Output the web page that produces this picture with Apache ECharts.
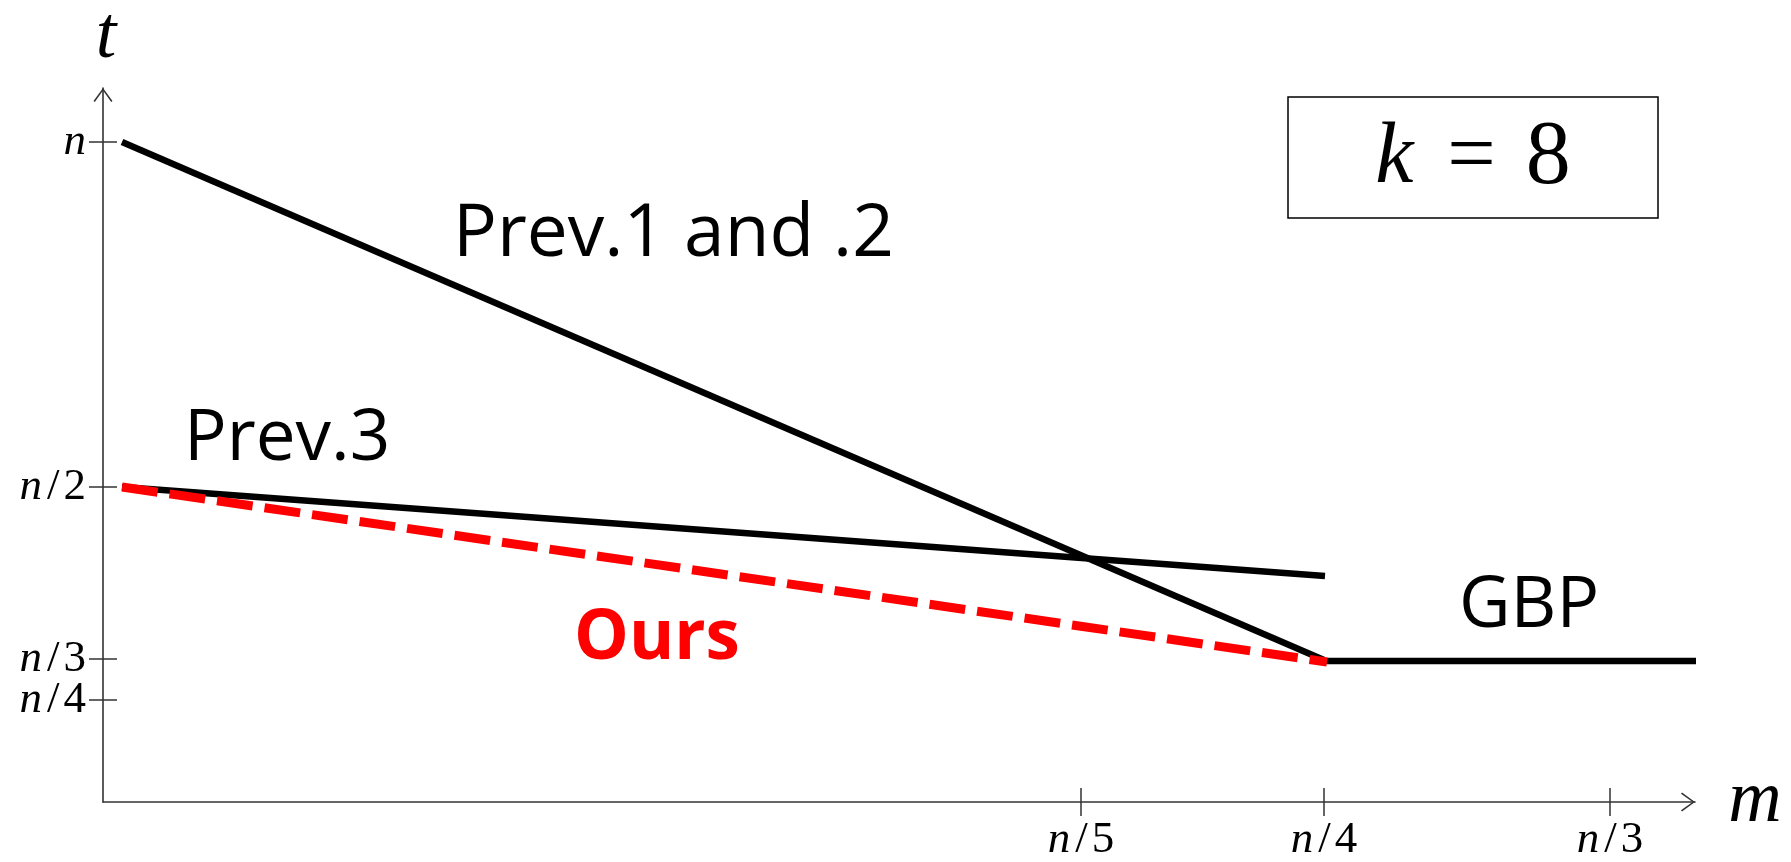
<!DOCTYPE html>
<html>
<head>
<meta charset="utf-8">
<title>k = 8</title>
<script src="https://cdn.jsdelivr.net/npm/echarts@6/dist/echarts.min.js"></script>
<style>
html, body { margin: 0; padding: 0; background: #fff; }
#chart { width: 1791px; height: 862px; }
</style>
</head>
<body>
<div id="chart"></div>
<script>
// the figure is a sketch, not to scale: both axes use schematic units
var xMax = 1592, yMax = 714;
var xTickPos = [978, 1221, 1507];
var xTickLabels = ['n/5', 'n/4', 'n/3'];
var yTickPos = [660, 315, 143, 102];
var yTickLabels = ['n', 'n/2', 'n/3', 'n/4'];

// curves
var prev12 = [[19, 660], [1221, 142]];
var prev3 = [[19, 315], [1222, 226]];
var gbp = [[1221, 141], [1593, 141]];
var ours = [[19, 315], [1224, 140]];

var myChart = echarts.init(document.getElementById('chart'));

// open chevron for the axis ends (pointing up, rotated by echarts)
var arrow = 'path://M0,13 L9.5,0 L19,13 L17.7,14 L9.5,2.4 L1.3,14 Z';
var axisColor = '#333';
var mathFont = 'Liberation Serif';

function mathLabel(pos, labels) {
    return function (v) {
        var s = labels[pos.indexOf(v)];
        if (!s) return '';
        var p = s.split('/');
        if (p.length > 1) return '{i|' + p[0] + '}{s|/}{r|' + p[1] + '}';
        return '{i|' + s + '}';
    };
}
var labelRich = {
    i: { fontFamily: mathFont, fontStyle: 'italic', fontSize: 45, lineHeight: 30, color: '#000' },
    s: { fontFamily: mathFont, fontSize: 45, lineHeight: 30, color: '#000', padding: [0, 4, 0, 5] },
    r: { fontFamily: mathFont, fontSize: 45, lineHeight: 30, color: '#000' }
};

function tickAxis(max, pos, inside, withLine) {
    return {
        type: 'value', min: 0, max: max,
        splitLine: { show: false },
        axisLine: withLine ? {
            show: true, onZero: false,
            symbol: ['none', arrow], symbolSize: [19, 14], symbolOffset: [0, -7],
            lineStyle: { color: axisColor, width: 1.6 }
        } : { show: false, onZero: false },
        axisTick: {
            show: true, inside: inside, length: 14, customValues: pos,
            lineStyle: { color: axisColor, width: 1.5 }
        },
        axisLabel: { show: false }
    };
}

function labelsOn(axis, pos, labels, values, margin) {
    axis.axisLabel = { show: true, customValues: values, margin: margin, hideOverlap: false,
        showMinLabel: true, showMaxLabel: true, lineHeight: 30,
        formatter: mathLabel(pos, labels), rich: labelRich };
}

var xMain = tickAxis(xMax, xTickPos, false, true);
xMain.position = 'bottom';
labelsOn(xMain, xTickPos, xTickLabels, xTickPos, 23);
var xIn = tickAxis(xMax, xTickPos, true, false);
xIn.position = 'bottom';

// n/3 and n/4 sit very close: share the y labels over the two left axes
// so echarts does not drop one of them as overlapping
var yEven = yTickPos.filter(function (v, i) { return i % 2 === 0; });
var yOdd = yTickPos.filter(function (v, i) { return i % 2 === 1; });
var yMain = tickAxis(yMax, yTickPos, false, true);
yMain.position = 'left';
labelsOn(yMain, yTickPos, yTickLabels, yEven, 17);
var yIn = tickAxis(yMax, yTickPos, true, false);
yIn.position = 'left';
labelsOn(yIn, yTickPos, yTickLabels, yOdd, 17);

function line(data, color, width, dash) {
    return {
        type: 'line', data: data, symbol: 'none', clip: false, silent: true,
        xAxisIndex: 0, yAxisIndex: 0,
        lineStyle: { color: color, width: width, type: dash || 'solid', cap: 'butt' }
    };
}

var sans = 'Open Sans';
var option = {
    animation: false,
    grid: { left: 103, right: 96, top: 88, bottom: 60, outerBoundsMode: 'none' },
    xAxis: [xMain, xIn],
    yAxis: [yMain, yIn],
    series: [
        line(prev12, '#000', 6.5),
        line(prev3, '#000', 6.5),
        line(gbp, '#000', 6.5),
        line(ours, '#ff0000', 9, [36, 12])
    ],
    graphic: [
        { type: 'rect', shape: { x: 1288, y: 97, width: 370, height: 121 },
          style: { fill: '#fff', stroke: '#000', lineWidth: 1.5 } },
        { type: 'text', x: 1473, y: 159,
          style: { text: '{k|k}{e|=}{d|8}', textAlign: 'center', textVerticalAlign: 'middle',
            rich: {
                k: { fontFamily: mathFont, fontStyle: 'italic', fontSize: 86, fill: '#000' },
                e: { fontFamily: mathFont, fontSize: 86, fill: '#000', padding: [0, 30, 0, 34] },
                d: { fontFamily: mathFont, fontSize: 90, fill: '#000' }
            } } },
        { type: 'text', x: 106, y: 38,
          style: { text: 't', font: 'italic 74px "' + mathFont + '"', fill: '#000', textAlign: 'center', textVerticalAlign: 'middle' } },
        { type: 'text', x: 1755, y: 802,
          style: { text: 'm', font: 'italic 74px "' + mathFont + '"', fill: '#000', textAlign: 'center', textVerticalAlign: 'middle' } },
        { type: 'text', x: 453, y: 235,
          style: { text: 'Prev.1 and .2', font: '73px "' + sans + '"', fill: '#000', textAlign: 'left', textVerticalAlign: 'middle' } },
        { type: 'text', x: 184, y: 440,
          style: { text: 'Prev.3', font: '71px "' + sans + '"', fill: '#000', textAlign: 'left', textVerticalAlign: 'middle' } },
        { type: 'text', x: 1459, y: 607,
          style: { text: 'GBP', font: '71px "' + sans + '"', fill: '#000', textAlign: 'left', textVerticalAlign: 'middle' } },
        { type: 'text', x: 574, y: 639,
          style: { text: 'Ours', font: 'bold 69px "' + sans + '"', fill: '#ff0000', textAlign: 'left', textVerticalAlign: 'middle' } }
    ]
};

myChart.setOption(option);
</script>
</body>
</html>
